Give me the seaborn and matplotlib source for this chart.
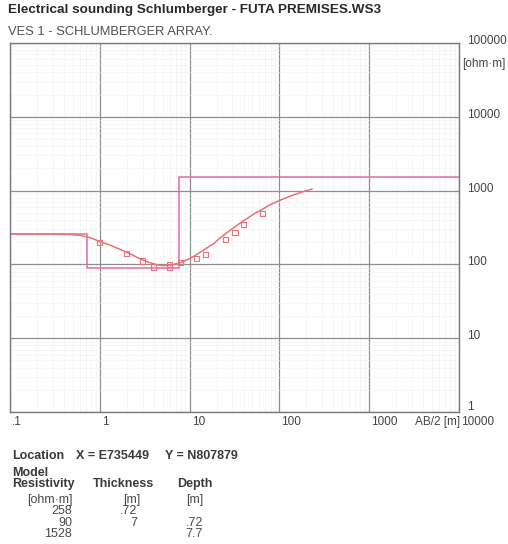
import numpy as np
import pandas as pd
import matplotlib
matplotlib.use("Agg")
import matplotlib.pyplot as plt
import seaborn as sns
from matplotlib.ticker import LogLocator, NullFormatter
from matplotlib.transforms import offset_copy, blended_transform_factory

# ---------------- data ----------------
field_ab2 = [1, 2, 3, 4, 6, 6, 8, 12, 15, 25, 32, 40, 65]
field_rho = [200, 140, 111, 92, 92, 100, 105, 121, 137, 216, 272, 350, 493]

curve_ab2 = [0.1, 0.3, 0.45, 0.6, 0.8, 1.0, 1.3, 1.68, 2.2, 2.8, 3.5, 4.3, 5.0,
             6.0, 7.8, 9.5, 11.5, 14.5, 18.4, 22, 28, 35, 43, 53, 66, 80, 100,
             125, 155, 190, 232]
curve_rho = [258, 257, 254, 248, 228, 204, 183, 160, 138, 119, 107, 99, 96.5,
             97, 105, 116, 132, 158, 190, 230, 288, 350, 414, 490, 566, 650, 733,
             820, 902, 980, 1054]

model_rho = [258, 90, 1528]
model_thick = [".72", "7", ""]
model_depth = ["", ".72", "7.7"]
model_bounds = [0.72, 7.7]

x_ticks = [0.1, 1, 10, 100, 1000, 10000]
x_labels = [".1", "1", "10", "100", "1000", "10000"]
y_ticks = [1, 10, 100, 1000, 10000, 100000]
y_labels = ["1", "10", "100", "1000", "10000", "100000"]

# ---------------- style ----------------
sns.set_style("white")
plt.rcParams["font.family"] = ["Liberation Sans", "DejaVu Sans"]

W, H = 508, 544
fig = plt.figure(figsize=(W / 100, H / 100), dpi=100)
L, R, T, B = 10, 459, 43, 412
ax = fig.add_axes([L / W, 1 - B / H, (R - L) / W, (B - T) / H])
ax.set_xscale("log")
ax.set_yscale("log")
ax.set_xlim(x_ticks[0], x_ticks[-1])
ax.set_ylim(y_ticks[0], y_ticks[-1])

# grid
ax.xaxis.set_minor_locator(LogLocator(base=10, subs=np.arange(2, 10)))
ax.yaxis.set_minor_locator(LogLocator(base=10, subs=np.arange(2, 10)))
ax.set_xticks(x_ticks)
ax.set_yticks(y_ticks)
ax.grid(which="minor", color="#efefef", lw=0.4)
ax.grid(which="major", color="#8e8e8e", lw=0.9)
ax.set_axisbelow(True)
ax.tick_params(which="both", length=0, labelbottom=False, labelleft=False)
ax.xaxis.set_minor_formatter(NullFormatter())
ax.yaxis.set_minor_formatter(NullFormatter())
for s in ax.spines.values():
    s.set_color("#7a7a7a")
    s.set_linewidth(1.0)

# model step line
edges = [x_ticks[0]] + model_bounds + [x_ticks[-1]]
step_x, step_y = [], []
for i, rho in enumerate(model_rho):
    step_x += [edges[i], edges[i + 1]]
    step_y += [rho, rho]
sns.lineplot(x=step_x, y=step_y, sort=False, estimator=None, color="#e46aa4",
             lw=1.1, ax=ax)

# calculated curve
sns.lineplot(x=curve_ab2, y=curve_rho, sort=False, estimator=None,
             color="#e8727a", lw=1.1, ax=ax)

# field data
sns.scatterplot(x=field_ab2, y=field_rho, marker="s", s=14,
                facecolors="none", edgecolors="#e8727a", linewidth=0.8, ax=ax)

# tick labels
tick_col = "#444444"
bx = blended_transform_factory(ax.transData, ax.transAxes)
for xv, lab in zip(x_ticks, x_labels):
    ax.text(xv, 0, lab, transform=offset_copy(bx, fig=fig, x=2, y=-10, units="dots"),
            ha="left", va="center", fontsize=8.5, color=tick_col)
by = blended_transform_factory(ax.transAxes, ax.transData)
for yv, lab in zip(y_ticks, y_labels):
    dy = 5 if yv == y_ticks[0] else 2
    ax.text(1, yv, lab, transform=offset_copy(by, fig=fig, x=8, y=dy, units="dots"),
            ha="left", va="center", fontsize=8.5, color=tick_col)

fig.text(460 / W, 1 - 422 / H, "AB/2 [m]", ha="right", va="center",
         fontsize=8.5, color=tick_col)
fig.text(462 / W, 1 - 64 / H, "[ohm·m]", ha="left", va="center",
         fontsize=8.5, color=tick_col)

# titles
fig.text(8 / W, 1 - 10 / H, "Electrical sounding Schlumberger - FUTA PREMISES.WS3",
         ha="left", va="center", fontsize=9.7, fontweight="bold", color="#2a2a2a")
fig.text(8 / W, 1 - 32 / H, "VES 1 - SCHLUMBERGER ARRAY.",
         ha="left", va="center", fontsize=9.3, color="#505050")

# location / model table
bold_col = "#3a3a3a"
val_col = "#4a4a4a"
def ftxt(x, y, s, **kw):
    fig.text(x / W, 1 - y / H, s, va="center", **kw)

ftxt(12, 456, "Location", ha="left", fontsize=9, fontweight="bold", color=bold_col)
ftxt(76, 456, "X = E735449", ha="left", fontsize=9, fontweight="bold", color=bold_col)
ftxt(165, 456, "Y = N807879", ha="left", fontsize=9, fontweight="bold", color=bold_col)
ftxt(12, 473, "Model", ha="left", fontsize=9, fontweight="bold", color=bold_col)
ftxt(12, 484, "Resistivity", ha="left", fontsize=9, fontweight="bold", color=bold_col)
ftxt(93, 484, "Thickness", ha="left", fontsize=9, fontweight="bold", color=bold_col)
ftxt(177, 484, "Depth", ha="left", fontsize=9, fontweight="bold", color=bold_col)
ftxt(73, 500, "[ohm·m]", ha="right", fontsize=9, color=val_col)
ftxt(132, 500, "[m]", ha="center", fontsize=9, color=val_col)
ftxt(195, 500, "[m]", ha="center", fontsize=9, color=val_col)
rows_y = [511, 523, 534]
for yy, rho, th, dp in zip(rows_y, model_rho, model_thick, model_depth):
    ftxt(72, yy, str(rho), ha="right", fontsize=9, color=val_col)
    if th:
        ftxt(137, yy, th, ha="right", fontsize=9, color=val_col)
    if dp:
        ftxt(203, yy, dp, ha="right", fontsize=9, color=val_col)

fig.savefig("out.png", dpi=100)
